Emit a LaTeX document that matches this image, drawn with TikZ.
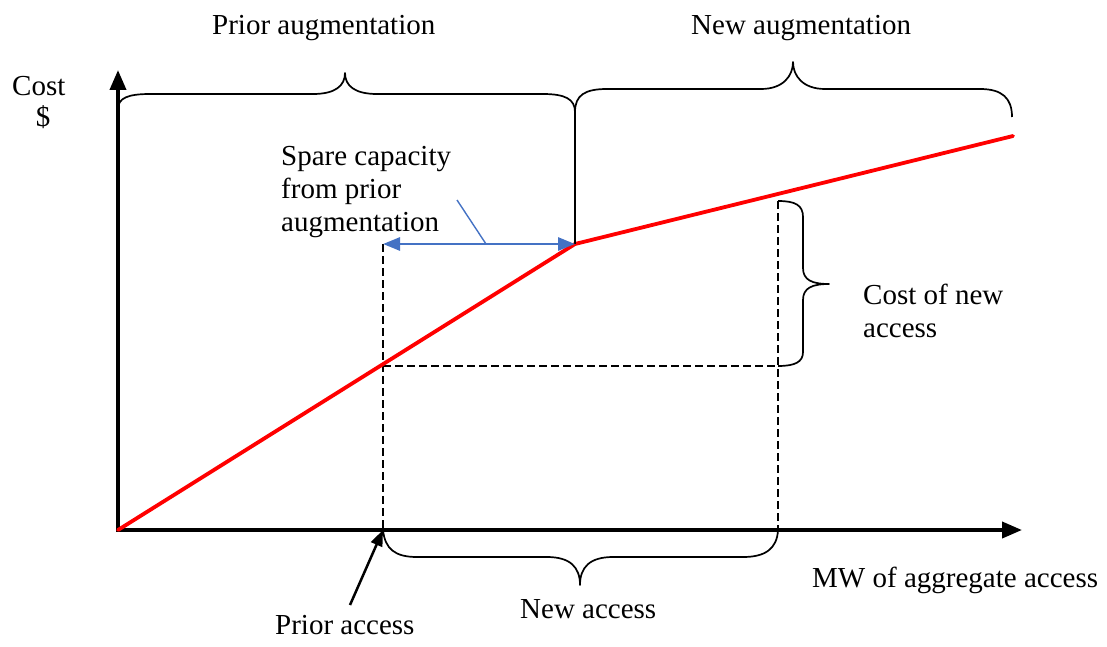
\documentclass[tikz,border=0pt]{standalone}
\usepackage{fontspec}
\setmainfont{Liberation Serif}
\usetikzlibrary{arrows.meta}
\begin{document}
\begin{tikzpicture}[x=1pt,y=-1pt,
  lbl/.style={anchor=base west,inner sep=0pt,font=\fontsize{29}{33}\selectfont},
  axis/.style={line width=3.8pt,-{Triangle[length=20pt,width=16pt]}},
  curve/.style={red,line width=3.8pt,line cap=round,line join=round},
  guide/.style={line width=1.6pt,dash pattern=on 8pt off 4pt},
  bracket/.style={line width=1.7pt,line join=round},
  spare/.style={draw=blueA,line width=2.8pt,{Triangle[length=17pt,width=13pt]}-{Triangle[length=17pt,width=13pt]}},
  pointer/.style={line width=2.5pt,-{Triangle[length=16pt,width=12pt]}}]
\definecolor{blueA}{RGB}{68,114,196}
\useasboundingbox (0,0) rectangle (1107,647);

% key points of the graph
\coordinate (O)    at (118,530);
\coordinate (ytop) at (118,70);
\coordinate (xend) at (1022,530);
\coordinate (kink) at (575,244);
\coordinate (cend) at (1013,136);
\coordinate (pa)   at (383,244);
\coordinate (pax)  at (383,530);
\coordinate (pam)  at (383,366);
\coordinate (nam)  at (778,366);
\coordinate (nat)  at (778,201);
\coordinate (nax)  at (778,530);
\coordinate (jn)   at (575,112);
\coordinate (tagA) at (457,200);
\coordinate (tagB) at (486,244);
\coordinate (ptr)  at (350,605);

% dashed guides
\draw[guide] (pa) -- (pax);
\draw[guide] (pam) -- (nam);
\draw[guide] (nat) -- (nax);

% axes
\draw[axis] ([yshift=1.9pt]O) -- (ytop);
\draw[axis] ([xshift=-1.9pt]O) -- (xend);

% cost curve
\draw[curve] (O) -- (kink) -- (cend);

% divider between the two augmentations
\draw[line width=1.6pt] (jn) -- (kink);

% spare capacity arrow and its tag line
\draw[spare] (pa) -- (kink);
\draw[blueA,line width=1.4pt] (tagA) -- (tagB);

% pointer to prior access
\draw[pointer] (ptr) -- (pax);

% brace over prior augmentation
\draw[bracket] (118,109) .. controls (118,98) and (128,94) .. (150,94) -- (313,94)
  .. controls (335,94) and (345,86) .. (345,73)
  .. controls (345,86) and (355,94) .. (377,94) -- (543,94)
  .. controls (565,94) and (575,99) .. (jn);

% brace over new augmentation
\draw[bracket] (jn) .. controls (575,95) and (585,89) .. (607,89) -- (761,89)
  .. controls (783,89) and (793,76) .. (793,62)
  .. controls (793,76) and (803,89) .. (825,89) -- (980,89)
  .. controls (1002,89) and (1012,98) .. (1012,117);

% brace for cost of new access
\draw[bracket] (nat) .. controls (795,201) and (803,205) .. (803,217) -- (803,268)
  .. controls (803,280) and (812,284) .. (829,284)
  .. controls (812,284) and (803,288) .. (803,300) -- (803,352)
  .. controls (803,362) and (795,366) .. (nam);

% brace under new access
\draw[bracket] (pax) .. controls (385,549) and (395,557) .. (417,557) -- (547,557)
  .. controls (570,557) and (580,567) .. (580,585)
  .. controls (580,567) and (590,557) .. (613,557) -- (743,557)
  .. controls (765,557) and (777,549) .. (nax);

% labels
\node[lbl] (lpa) at (212,35) {Prior augmentation};
\node[lbl] (lna) at (691,35) {New augmentation};
\node[lbl] (lcost) at (12,96) {Cost};
\node[lbl,anchor=base] (ldol) at (43,127) {\$};
\node[lbl,align=left,anchor=north west] (lspare) at (281,146) {Spare capacity\\from prior\\augmentation};
\node[lbl,align=left,anchor=north west] (lcna) at (863,284) {Cost of new\\access};
\node[lbl] (lmw) at (812,587) {MW of aggregate access};
\node[lbl] (lnew) at (520,618) {New access};
\node[lbl] (lprior) at (275,634) {Prior access};
\end{tikzpicture}
\end{document}
